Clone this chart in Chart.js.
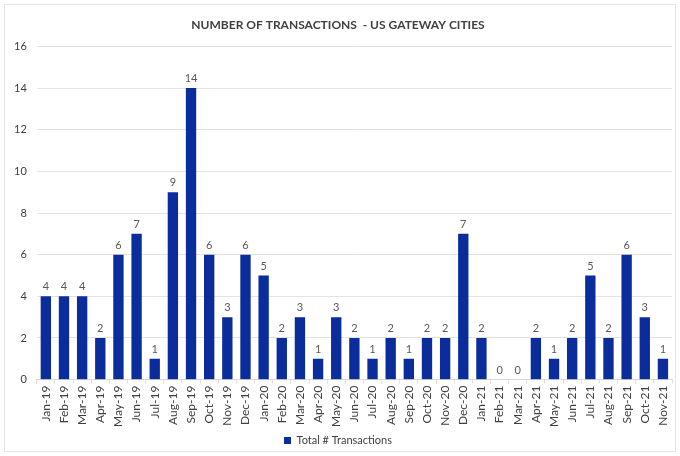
<!DOCTYPE html>
<html><head><meta charset="utf-8">
<script src="https://cdn.jsdelivr.net/npm/chart.js@4/dist/chart.umd.min.js"></script>
<style>html,body{margin:0;padding:0;background:#fff}#wrap{width:680px;height:456px;position:relative}</style>
</head><body><div id="wrap"><canvas id="c" width="680" height="456"></canvas></div>
<script>
const categories = ["Jan-19","Feb-19","Mar-19","Apr-19","May-19","Jun-19","Jul-19","Aug-19","Sep-19","Oct-19","Nov-19","Dec-19","Jan-20","Feb-20","Mar-20","Apr-20","May-20","Jun-20","Jul-20","Aug-20","Sep-20","Oct-20","Nov-20","Dec-20","Jan-21","Feb-21","Mar-21","Apr-21","May-21","Jun-21","Jul-21","Aug-21","Sep-21","Oct-21","Nov-21"];
const transactions = [4,4,4,2,6,7,1,9,14,6,3,6,5,2,3,1,3,2,1,2,1,2,2,7,2,0,0,2,1,2,5,2,6,3,1];
const seriesName = "Total # Transactions";
const chartTitle = "NUMBER OF TRANSACTIONS  - US GATEWAY CITIES";
const yMin = 0, yMax = 16, yStep = 2;

const FONT = "Lato, 'Open Sans', sans-serif";
const valueLabels = {
  id: 'valueLabels',
  afterDatasetsDraw(chart) {
    const ctx = chart.ctx;
    ctx.save();
    ctx.font = "11px " + FONT;
    ctx.fillStyle = "#595959";
    ctx.textAlign = "center";
    ctx.textBaseline = "bottom";
    chart.getDatasetMeta(0).data.forEach((el, i) => {
      ctx.fillText(String(transactions[i]), el.x, el.y - 4);
    });
    ctx.restore();
  }
};
const frame = {
  id: 'frame',
  beforeDraw(chart) {
    const ctx = chart.ctx;
    ctx.save();
    ctx.strokeStyle = "#e6e6e6";
    ctx.lineWidth = 1;
    ctx.strokeRect(4.5, 4.5, chart.width - 9, chart.height - 9);
    ctx.restore();
  }
};

new Chart(document.getElementById('c'), {
  type: 'bar',
  data: {
    labels: categories,
    datasets: [{
      label: seriesName,
      data: transactions,
      backgroundColor: "#0B2D9C",
      barPercentage: 0.6,
      categoryPercentage: 0.95
    }]
  },
  options: {
    responsive: false,
    animation: false,
    devicePixelRatio: 1,
    layout: { padding: { left: 4, right: 8, top: 10, bottom: 0 } },
    plugins: {
      title: {
        display: true, text: chartTitle,
        color: "#404040",
        font: { family: FONT, size: 12, weight: 'bold' },
        padding: { top: 8, bottom: 14 }
      },
      legend: {
        position: 'bottom',
        labels: {
          color: "#404040",
          font: { family: FONT, size: 11 },
          boxWidth: 7, boxHeight: 7, padding: 6
        }
      },
      tooltip: { enabled: false }
    },
    scales: {
      x: {
        grid: { display: true, drawOnChartArea: false, drawTicks: true, tickLength: 4, color: "#ecd9d9", offset: true },
        border: { color: "#d9d9d9" },
        ticks: {
          color: "#404040",
          font: { family: FONT, size: 12 },
          maxRotation: 90, minRotation: 90,
          autoSkip: false, padding: 2
        }
      },
      y: {
        min: yMin, max: yMax,
        grid: { color: "#e3e3e3", drawTicks: false },
        border: { display: false },
        ticks: {
          stepSize: yStep,
          color: "#404040",
          font: { family: FONT, size: 11 },
          padding: 10
        }
      }
    }
  },
  plugins: [frame, valueLabels]
});
</script></body></html>
